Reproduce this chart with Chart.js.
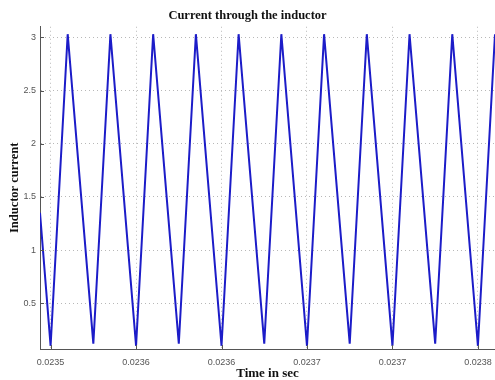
<!DOCTYPE html>
<html>
<head>
<meta charset="utf-8">
<script src="https://cdn.jsdelivr.net/npm/chart.js@4/dist/chart.umd.min.js"></script>
<style>
html,body{margin:0;padding:0;background:#fff;}
#wrap{width:495px;height:380px;position:relative;}
</style>
</head>
<body>
<div id="wrap"><canvas id="c" width="495" height="380"></canvas></div>
<script>
// Vertices of the triangular inductor current waveform (time in s, current)
const timeSec = [0.0234938, 0.023500, 0.023510, 0.023525, 0.023535, 0.023550, 0.023560, 0.023575, 0.023585,
  0.023600, 0.023610, 0.023625, 0.023635, 0.023650, 0.023660, 0.023675, 0.023685, 0.023700, 0.023710,
  0.023725, 0.023735, 0.023750, 0.023760];
const current = [1.35, 0.10, 3.03, 0.12, 3.03, 0.10, 3.03, 0.12, 3.03,
  0.10, 3.03, 0.12, 3.03, 0.10, 3.03, 0.12, 3.03, 0.10, 3.03,
  0.12, 3.03, 0.10, 3.03];
const xTickValues = [0.02350, 0.02355, 0.02360, 0.02365, 0.02370, 0.02375];
const xTickLabels = ['0.0235', '0.0236', '0.0236', '0.0237', '0.0237', '0.0238'];
const yTickValues = [0.5, 1, 1.5, 2, 2.5, 3];
const yTickLabels = ['0.5', '1', '1.5', '2', '2.5', '3'];

const points = timeSec.map((t, i) => ({x: t, y: current[i]}));

const innerTicks = {
  id: 'innerTicks',
  afterDatasetsDraw(chart) {
    const ctx = chart.ctx, xs = chart.scales.x, ys = chart.scales.y, a = chart.chartArea;
    ctx.save();
    ctx.strokeStyle = '#555';
    ctx.lineWidth = 1;
    ctx.beginPath();
    xTickValues.forEach(v => {
      const px = Math.round(xs.getPixelForValue(v)) + 0.5;
      ctx.moveTo(px, a.bottom); ctx.lineTo(px, a.bottom - 4);
    });
    yTickValues.forEach(v => {
      const py = Math.round(ys.getPixelForValue(v)) + 0.5;
      ctx.moveTo(a.left, py); ctx.lineTo(a.left + 4, py);
    });
    ctx.stroke();
    ctx.restore();
  }
};

new Chart(document.getElementById('c'), {
  type: 'line',
  data: {
    datasets: [{
      data: points,
      borderColor: '#1c1cc8',
      borderWidth: 2,
      pointRadius: 0,
      tension: 0,
      fill: false
    }]
  },
  options: {
    responsive: false,
    animation: false,
    devicePixelRatio: 1,
    layout: {padding: {left: 0, right: 0, top: 0, bottom: 0}},
    plugins: {
      legend: {display: false},
      tooltip: {enabled: false},
      title: {
        display: true,
        text: 'Current through the inductor',
        color: '#111',
        font: {family: 'Liberation Serif', size: 12.5, weight: 'bold', lineHeight: 1.1},
        padding: {top: 9, bottom: 4}
      }
    },
    scales: {
      x: {
        type: 'linear',
        min: 0.0234938,
        max: 0.023760,
        afterBuildTicks(s) { s.ticks = xTickValues.map(v => ({value: v})); },
        afterFit(s) { s.height = 31; s.paddingLeft = 0; s.paddingRight = 0; },
        ticks: {
          autoSkip: false,
          maxRotation: 0,
          color: '#555',
          padding: 8,
          font: {family: 'Liberation Sans', size: 9},
          callback(v, i) { return xTickLabels[i]; }
        },
        grid: {
          display: true,
          color: '#b8b8b8',
          drawTicks: false,
          lineWidth: 1
        },
        border: {display: true, color: '#555', width: 1, dash: [1, 3]},
        title: {
          display: true,
          text: 'Time in sec',
          color: '#111',
          font: {family: 'Liberation Serif', size: 13, weight: 'bold', lineHeight: 1.0},
          padding: {top: 0, bottom: 0}
        }
      },
      y: {
        type: 'linear',
        min: 0.07,
        max: 3.1,
        afterBuildTicks(s) { s.ticks = yTickValues.map(v => ({value: v})); },
        afterFit(s) { s.width = 40; s.paddingTop = 0; s.paddingBottom = 0; },
        ticks: {
          color: '#555',
          padding: 4,
          font: {family: 'Liberation Sans', size: 9},
          callback(v, i) { return yTickLabels[i]; }
        },
        grid: {
          display: true,
          color: '#b8b8b8',
          drawTicks: false,
          lineWidth: 1
        },
        border: {display: true, color: '#555', width: 1, dash: [1, 3]},
        title: {
          display: true,
          text: 'Inductor current',
          color: '#111',
          font: {family: 'Liberation Serif', size: 12.5, weight: 'bold'},
          padding: {top: 7, bottom: 0}
        }
      }
    }
  },
  plugins: [innerTicks]
});
</script>
</body>
</html>
